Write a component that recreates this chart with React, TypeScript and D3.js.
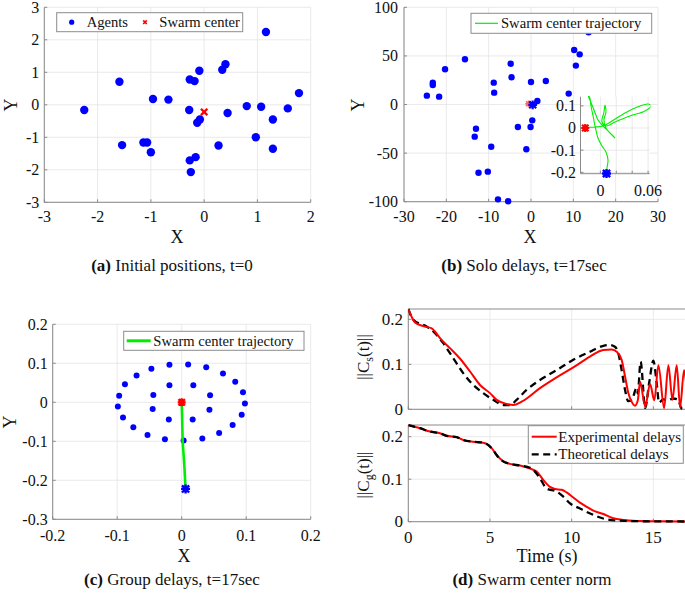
import React from "react";
import * as d3 from "d3";

const FONT = "'Liberation Serif', 'Times New Roman', Times, serif";
const GRID = "#e4e4e4";
const AXIS = "#8a8a8a";
const TXT = "#111";
const BLUE = "#0000ff";
const RED = "#ff0000";
const GREEN = "#00ee00";

// ---------- Panel (a): initial positions ----------
const aTicksX = [-3, -2, -1, 0, 1, 2];
const aTicksY = [-3, -2, -1, 0, 1, 2, 3];
const aAgentX = [-2.25, -1.59, -1.54, -0.96, -0.67, -1.14, -1.07, -1.0, -0.27, -0.18, -0.09, -0.28, -0.08, -0.13, -0.27, -0.16, -0.25, 0.27, 0.34, 0.4, 0.44, 0.8, 1.07, 0.97, 1.29, 1.29, 1.57, 1.78, 1.16];
const aAgentY = [-0.16, 0.71, -1.24, 0.18, 0.16, -1.16, -1.16, -1.46, 0.78, 0.73, 1.05, -0.16, -0.45, -0.55, -1.71, -1.61, -2.07, -1.25, 1.08, 1.25, -0.25, -0.04, -0.06, -1.0, -0.45, -1.35, -0.11, 0.36, 2.24];
const aCenter = [0.0, -0.22];

// ---------- Panel (b): solo delays ----------
const bTicksX = [-30, -20, -10, 0, 10, 20, 30];
const bTicksY = [-100, -50, 0, 50, 100];
const bAgentX = [-24.6, -23.2, -23.2, -21.7, -20.3, -15.6, -13.0, -13.3, -12.4, -10.2, -8.8, -8.7, -9.4, -7.8, -5.4, -4.8, -4.6, -3.1, -1.1, -0.1, 0, 0.3, 1.5, 3.5, 8.9, 10.2, 11.5, 10.6, 13.6];
const bAgentY = [9.1, 20.1, 22.5, 8.1, 36.2, 46.5, -24.9, -33.1, -70.2, -69.1, 22.5, 12.2, -43.4, -97.6, -99.5, 42.0, 28.0, -23.2, -46.1, -23.2, 23.2, -16.3, 3.6, 24.2, 11.2, 56.1, 51.6, 40.0, 74.3];
const bCenterStart = [-0.6, 0.8];
const bCenterEnd = [0.4, -0.3];
// inset
const insetTicksX = [0, 0.02, 0.04, 0.06];
const insetLabelsX = ["0", "", "", "0.06"];
const insetTicksY = [-0.2, -0.1, 0, 0.1];
const insetTrajX = [-0.0194, -0.0068, 0.0033, 0.0146, 0.0309, 0.0498, 0.0599, 0.0636, 0.0561, 0.0372, 0.0184, 0.007, 0.002, 0.0045, 0.0058, 0.007, 0.0045, 0.007, 0.0121, 0.0184, 0.0096, 0.0033, -0.003, -0.008, -0.0131, -0.015, -0.0137, -0.0118, -0.0087, -0.0062, -0.003, 0.002, 0.007, 0.0096, 0.0083, 0.0077];
const insetTrajY = [0.0023, 0.0045, 0.009, 0.0315, 0.0676, 0.0991, 0.1082, 0.0991, 0.0766, 0.0541, 0.027, 0.009, 0.027, 0.0721, 0.1037, 0.0721, 0.036, 0.0, -0.0225, -0.0451, -0.0135, 0.009, 0.036, 0.0811, 0.1262, 0.142, 0.14, 0.099, 0.045, 0.0, -0.045, -0.081, -0.108, -0.144, -0.18, -0.205];
const insetStart = [-0.019, 0.0];
const insetEnd = [0.0077, -0.205];

// ---------- Panel (c): group delays ----------
const cTicksX = [-0.2, -0.1, 0, 0.1, 0.2];
const cTicksY = [-0.3, -0.2, -0.1, 0, 0.1, 0.2];
const cAgentX = [-0.019, 0.01, 0.038, 0.064, 0.083, 0.095, 0.098, 0.093, 0.079, 0.058, 0.032, 0.003, -0.026, -0.053, -0.075, -0.091, -0.099, -0.097, -0.088, -0.07, -0.047, -0.019, 0.018, 0.044, 0.043, 0.017, -0.02, -0.045, -0.044];
const cAgentY = [0.096, 0.097, 0.09, 0.074, 0.053, 0.026, -0.003, -0.032, -0.058, -0.079, -0.093, -0.098, -0.095, -0.084, -0.064, -0.039, -0.011, 0.017, 0.046, 0.069, 0.086, 0.044, 0.044, 0.018, -0.019, -0.044, -0.044, -0.017, 0.019];
const cTrajX = [0, 0.0008, 0.0015, 0.004, 0.006];
const cTrajY = [0, -0.05, -0.101, -0.16, -0.222];
const cCenterStart = [0.006, -0.222];
const cCenterEnd = [0, 0];

// ---------- Panel (d): swarm center norm ----------
const dTicksX = [0, 5, 10, 15];
const dTicksY = [0, 0.1, 0.2];
const sExpT = [0, 0.2, 0.41, 0.92, 1.43, 1.63, 1.94, 2.55, 3.16, 3.78, 4.39, 5.0, 5.41, 6.02, 6.43, 6.94, 8.06, 9.08, 10.1, 11.12, 11.94, 12.45, 12.76, 13.06, 13.27, 13.47, 13.67, 13.88, 14.05, 14.19, 14.5, 14.8, 15.06, 15.31, 15.66, 15.92, 16.17, 16.43, 16.64, 16.88, 17];
const sExpV = [0.223, 0.206, 0.193, 0.185, 0.18, 0.173, 0.158, 0.136, 0.113, 0.084, 0.054, 0.036, 0.021, 0.012, 0.0096, 0.017, 0.047, 0.071, 0.093, 0.117, 0.132, 0.133, 0.128, 0.11, 0.073, 0.036, 0.017, 0.008, 0.02, 0.061, 0.006, 0.056, 0.02, 0.098, 0.003, 0.098, 0.021, 0.098, 0.005, 0.087, 0.06];
const sTheoT = [0, 0.31, 1.12, 1.53, 2.14, 2.76, 3.37, 3.98, 4.59, 5.2, 5.82, 6.22, 6.63, 7.24, 8.06, 9.08, 10.1, 11.12, 11.94, 12.35, 12.65, 12.86, 13.06, 13.27, 13.46, 13.7, 13.97, 14.05, 14.22, 14.5, 14.75, 15.0, 15.2, 15.35, 15.6, 15.9, 16.2, 16.5, 16.73, 17];
const sTheoV = [0.223, 0.199, 0.184, 0.173, 0.147, 0.113, 0.08, 0.054, 0.036, 0.021, 0.0096, 0.0096, 0.021, 0.043, 0.065, 0.087, 0.11, 0.128, 0.141, 0.143, 0.139, 0.124, 0.087, 0.043, 0.018, 0.022, 0.047, 0.035, 0.106, 0.003, 0.06, 0.108, 0.06, 0.015, 0.022, 0.02, 0.024, 0.022, 0.002, 0.0];
const gExpT = [0, 0.71, 1.33, 1.94, 2.35, 2.96, 3.37, 3.98, 4.59, 4.8, 5.1, 5.41, 5.71, 6.22, 6.84, 7.45, 7.86, 8.27, 8.67, 8.98, 9.39, 9.69, 10.1, 10.51, 10.92, 11.33, 11.94, 12.55, 13.16, 14.18, 15.2, 17];
const gExpV = [0.227, 0.22, 0.212, 0.208, 0.202, 0.199, 0.192, 0.188, 0.186, 0.183, 0.173, 0.157, 0.145, 0.136, 0.132, 0.125, 0.118, 0.098, 0.082, 0.077, 0.075, 0.069, 0.057, 0.045, 0.035, 0.026, 0.018, 0.008, 0.004, 0.0016, 0.0008, 0.0005];
const gTheoT = [0, 0.71, 1.33, 1.94, 2.35, 2.96, 3.37, 3.98, 4.59, 4.9, 5.2, 5.5, 5.8, 6.22, 6.84, 7.45, 7.65, 8.06, 8.47, 9.08, 9.49, 9.9, 10.51, 11.33, 12.14, 13.16, 15, 17];
const gTheoV = [0.227, 0.22, 0.212, 0.208, 0.202, 0.199, 0.192, 0.188, 0.186, 0.18, 0.168, 0.152, 0.142, 0.136, 0.132, 0.127, 0.122, 0.102, 0.078, 0.071, 0.059, 0.043, 0.031, 0.016, 0.0055, 0.002, 0.0008, 0.0005];

type Scale = d3.ScaleLinear<number, number>;

interface FrameOpts {
  fs: number;
  xGap: number;
  yGap: number;
  box?: boolean;
  showX?: boolean;
  xLabels?: string[];
}

function frame(key: string, xs: Scale, ys: Scale, xTicks: number[], yTicks: number[], o: FrameOpts) {
  const [x0, x1] = xs.range();
  const [y0, y1] = ys.range();
  const showX = o.showX !== false;
  const tl = 3;
  return (
    <g key={key}>
      {xTicks.map((t) => (
        <line key={"gx" + t} x1={xs(t)} x2={xs(t)} y1={y0} y2={y1} stroke={GRID} strokeWidth={0.8} />
      ))}
      {yTicks.map((t) => (
        <line key={"gy" + t} x1={x0} x2={x1} y1={ys(t)} y2={ys(t)} stroke={GRID} strokeWidth={0.8} />
      ))}
      <line x1={x0} x2={x0} y1={y0} y2={y1} stroke={AXIS} strokeWidth={1} />
      <line x1={x0} x2={x1} y1={y0} y2={y0} stroke={AXIS} strokeWidth={1} />
      {o.box && <line x1={x0} x2={x1} y1={y1} y2={y1} stroke={AXIS} strokeWidth={1} />}
      {o.box && <line x1={x1} x2={x1} y1={y0} y2={y1} stroke={AXIS} strokeWidth={1} />}
      {xTicks.map((t) => (
        <line key={"tx" + t} x1={xs(t)} x2={xs(t)} y1={y0} y2={y0 - tl} stroke={AXIS} strokeWidth={1} />
      ))}
      {yTicks.map((t) => (
        <line key={"ty" + t} x1={x0} x2={x0 + tl} y1={ys(t)} y2={ys(t)} stroke={AXIS} strokeWidth={1} />
      ))}
      {showX &&
        xTicks.map((t, i) => (
          <text key={"lx" + t} x={xs(t)} y={y0 + o.xGap} textAnchor="middle" fontSize={o.fs} fill={TXT}>
            {o.xLabels ? o.xLabels[i] : String(t)}
          </text>
        ))}
      {yTicks.map((t) => (
        <text key={"ly" + t} x={x0 - o.yGap} y={ys(t) + o.fs * 0.34} textAnchor="end" fontSize={o.fs} fill={TXT}>
          {String(t)}
        </text>
      ))}
    </g>
  );
}

function xMark(cx: number, cy: number, s: number, color: string, sw: number) {
  return (
    <path
      d={`M${cx - s},${cy - s}L${cx + s},${cy + s}M${cx - s},${cy + s}L${cx + s},${cy - s}`}
      stroke={color}
      strokeWidth={sw}
      fill="none"
    />
  );
}

function starMark(cx: number, cy: number, s: number, color: string, sw: number) {
  const p = s * 1.25;
  return (
    <path
      d={`M${cx - s},${cy - s}L${cx + s},${cy + s}M${cx - s},${cy + s}L${cx + s},${cy - s}M${cx - p},${cy}L${cx + p},${cy}M${cx},${cy - p}L${cx},${cy + p}`}
      stroke={color}
      strokeWidth={sw}
      fill="none"
    />
  );
}

function linePath(xs: Scale, ys: Scale, X: number[], Y: number[], curve: d3.CurveFactory = d3.curveLinear) {
  const idx = X.map((_, i) => i);
  return d3
    .line<number>()
    .x((i) => xs(X[i]))
    .y((i) => ys(Y[i]))
    .curve(curve)(idx) as string;
}

export default function App() {
  // (a)
  const xa = d3.scaleLinear().domain([-3, 2]).range([44.3, 310.7]);
  const ya = d3.scaleLinear().domain([-3, 3]).range([202.3, 7.3]);
  // (b)
  const xb = d3.scaleLinear().domain([-30, 30]).range([404, 658]);
  const yb = d3.scaleLinear().domain([-100, 100]).range([201.7, 7.3]);
  const xi = d3.scaleLinear().domain([-0.025, 0.062]).range([580.5, 649.7]);
  const yi = d3.scaleLinear().domain([-0.206, 0.141]).range([173.7, 96.7]);
  // (c)
  const xc = d3.scaleLinear().domain([-0.2, 0.2]).range([52.7, 310.7]);
  const yc = d3.scaleLinear().domain([-0.3, 0.2]).range([519.3, 324.3]);
  // (d)
  const xd = d3.scaleLinear().domain([0, 17]).range([408.3, 686]);
  const ydt = d3.scaleLinear().domain([0, 0.223]).range([409.3, 309]);
  const ydb = d3.scaleLinear().domain([0, 0.2275]).range([521.7, 425]);

  return (
    <svg
      width={685}
      height={597}
      viewBox="0 0 685 597"
      style={{ position: "absolute", left: 0, top: 0, background: "#fff", fontFamily: FONT }}
    >
      <defs>
        <clipPath id="clipDt">
          <rect x={408.3} y={300} width={280} height={112} />
        </clipPath>
        <clipPath id="clipDb">
          <rect x={408.3} y={420} width={280} height={103} />
        </clipPath>
        <clipPath id="clipI">
          <rect x={580.5} y={96} width={70} height={78} />
        </clipPath>
      </defs>
      <rect x={0} y={0} width={685} height={597} fill="#fff" />

      {/* ---------------- (a) ---------------- */}
      {frame("fa", xa, ya, aTicksX, aTicksY, { fs: 16, xGap: 20, yGap: 5 })}
      {aAgentX.map((x, i) => (
        <circle key={"a" + i} cx={xa(x)} cy={ya(aAgentY[i])} r={4.2} fill={BLUE} />
      ))}
      {xMark(xa(aCenter[0]), ya(aCenter[1]), 3.2, RED, 2.3)}
      <g>
        <rect x={56.7} y={12.7} width={186} height={19} fill="#fff" stroke="#8c8c8c" strokeWidth={1} />
        <circle cx={71.7} cy={22.2} r={2.6} fill={BLUE} />
        <text x={86.7} y={27} fontSize={14.6} fill={TXT}>Agents</text>
        {xMark(145, 22.2, 1.8, RED, 1.6)}
        <text x={159.3} y={27} fontSize={14.6} fill={TXT}>Swarm center</text>
      </g>
      <text x={177} y={243} textAnchor="middle" fontSize={18} fill={TXT}>X</text>
      <text transform="translate(17,105) rotate(-90)" textAnchor="middle" fontSize={18} fill={TXT}>Y</text>
      <text x={172} y={271} textAnchor="middle" fontSize={17} fill={TXT}>
        <tspan fontWeight="bold">(a)</tspan>
        <tspan> Initial positions, t=0</tspan>
      </text>

      {/* ---------------- (b) ---------------- */}
      {frame("fb", xb, yb, bTicksX, bTicksY, { fs: 16, xGap: 20.5, yGap: 6 })}
      {bAgentX.map((x, i) => (
        <circle key={"b" + i} cx={xb(x)} cy={yb(bAgentY[i])} r={3.2} fill={BLUE} />
      ))}
      {starMark(xb(bCenterStart[0]), yb(bCenterStart[1]), 2.5, "#ff6060", 1.5)}
      {starMark(xb(bCenterEnd[0]), yb(bCenterEnd[1]), 3.5, BLUE, 2.2)}
      <g>
        <rect x={471} y={13.3} width={180.7} height={20} fill="#fff" stroke="#8c8c8c" strokeWidth={1} />
        <line x1={475} x2={498} y1={23.3} y2={23.3} stroke={GREEN} strokeWidth={1.2} />
        <text x={501} y={28.3} fontSize={14.6} fill={TXT}>Swarm center trajectory</text>
      </g>
      {/* inset */}
      <rect x={580.5} y={96.7} width={69.2} height={77} fill="#fff" />
      {frame("fi", xi, yi, insetTicksX, insetTicksY, { fs: 16, xGap: 22.5, yGap: 4.5, xLabels: insetLabelsX })}
      <path
        d={linePath(xi, yi, insetTrajX, insetTrajY, d3.curveCatmullRom)}
        fill="none"
        stroke={GREEN}
        strokeWidth={1.1}
        clipPath="url(#clipI)"
      />
      {starMark(xi(insetStart[0]), yi(insetStart[1]), 3.2, RED, 2.2)}
      {starMark(xi(insetEnd[0]), yi(insetEnd[1]), 3.6, BLUE, 2.4)}
      <text x={530} y={243} textAnchor="middle" fontSize={18} fill={TXT}>X</text>
      <text transform="translate(364,105) rotate(-90)" textAnchor="middle" fontSize={18} fill={TXT}>Y</text>
      <text x={524} y={271} textAnchor="middle" fontSize={17} fill={TXT}>
        <tspan fontWeight="bold">(b)</tspan>
        <tspan> Solo delays, t=17sec</tspan>
      </text>

      {/* ---------------- (c) ---------------- */}
      {frame("fc", xc, yc, cTicksX, cTicksY, { fs: 16, xGap: 22, yGap: 5 })}
      {cAgentX.map((x, i) => (
        <circle key={"c" + i} cx={xc(x)} cy={yc(cAgentY[i])} r={3} fill={BLUE} />
      ))}
      <path d={linePath(xc, yc, cTrajX, cTrajY)} fill="none" stroke={GREEN} strokeWidth={2.6} />
      {starMark(xc(cCenterEnd[0]), yc(cCenterEnd[1]), 3.2, RED, 2.3)}
      {starMark(xc(cCenterStart[0]), yc(cCenterStart[1]), 3.6, BLUE, 2.4)}
      <g>
        <rect x={123.7} y={331.3} width={180.3} height={19} fill="#fff" stroke="#8c8c8c" strokeWidth={1} />
        <line x1={126.7} x2={150.7} y1={340.8} y2={340.8} stroke={GREEN} strokeWidth={3} />
        <text x={153.3} y={345.8} fontSize={14.6} fill={TXT}>Swarm center trajectory</text>
      </g>
      <text x={184} y={562} textAnchor="middle" fontSize={18} fill={TXT}>X</text>
      <text transform="translate(16,422) rotate(-90)" textAnchor="middle" fontSize={18} fill={TXT}>Y</text>
      <text x={172} y={585} textAnchor="middle" fontSize={17} fill={TXT}>
        <tspan fontWeight="bold">(c)</tspan>
        <tspan> Group delays, t=17sec</tspan>
      </text>

      {/* ---------------- (d) ---------------- */}
      {frame("fdt", xd, ydt, dTicksX, dTicksY, { fs: 17, xGap: 21, yGap: 5.3, box: true, showX: false })}
      <g clipPath="url(#clipDt)">
        <path d={linePath(xd, ydt, sTheoT, sTheoV, d3.curveMonotoneX)} fill="none" stroke="#000" strokeWidth={2.3} strokeDasharray="7,4.5" />
        <path d={linePath(xd, ydt, sExpT, sExpV, d3.curveMonotoneX)} fill="none" stroke={RED} strokeWidth={2} />
      </g>
      <text transform="translate(369,357) rotate(-90)" textAnchor="middle" fontSize={17} fill={TXT}>
        ||C<tspan fontSize={12} dy={4}>s</tspan><tspan dy={-4}>(t)||</tspan>
      </text>

      {frame("fdb", xd, ydb, dTicksX, dTicksY, { fs: 17, xGap: 21, yGap: 5.3, box: true })}
      <g clipPath="url(#clipDb)">
        <path d={linePath(xd, ydb, gExpT, gExpV, d3.curveMonotoneX)} fill="none" stroke={RED} strokeWidth={2} />
        <path d={linePath(xd, ydb, gTheoT, gTheoV, d3.curveMonotoneX)} fill="none" stroke="#000" strokeWidth={2.3} strokeDasharray="7,4.5" />
      </g>
      <text transform="translate(369,475) rotate(-90)" textAnchor="middle" fontSize={17} fill={TXT}>
        ||C<tspan fontSize={12} dy={4}>g</tspan><tspan dy={-4}>(t)||</tspan>
      </text>
      <g>
        <rect x={528.3} y={425.7} width={155} height={37.6} fill="#fff" stroke="#8c8c8c" strokeWidth={1} />
        <line x1={531.7} x2={556.7} y1={436.7} y2={436.7} stroke={RED} strokeWidth={2} />
        <text x={558.3} y={441.7} fontSize={15} fill={TXT}>Experimental delays</text>
        <line x1={531.7} x2={556.7} y1={454.3} y2={454.3} stroke="#000" strokeWidth={2.3} strokeDasharray="7,4.5" />
        <text x={558.3} y={459.3} fontSize={15} fill={TXT}>Theoretical delays</text>
      </g>
      <text x={547} y={562} textAnchor="middle" fontSize={18} fill={TXT}>Time (s)</text>
      <text x={532} y={585} textAnchor="middle" fontSize={17} fill={TXT}>
        <tspan fontWeight="bold">(d)</tspan>
        <tspan> Swarm center norm</tspan>
      </text>
    </svg>
  );
}
